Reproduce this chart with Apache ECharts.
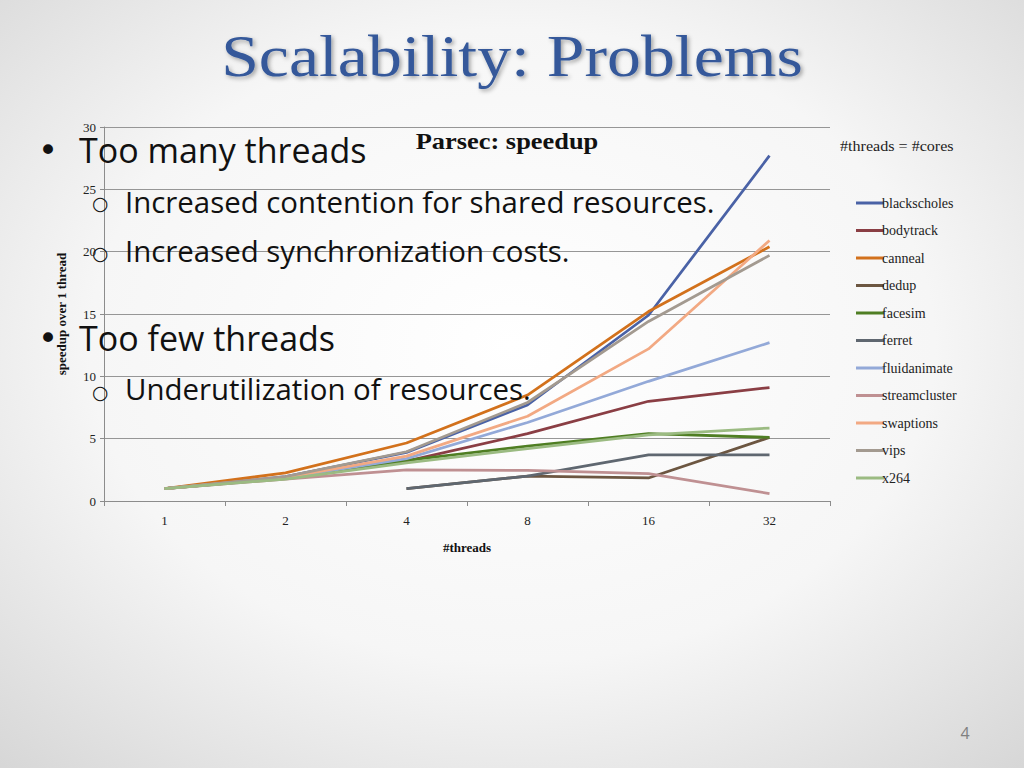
<!DOCTYPE html>
<html><head><meta charset="utf-8">
<script src="https://cdn.jsdelivr.net/npm/echarts@6/dist/echarts.min.js"></script>
<style>html,body{margin:0;padding:0;width:1024px;height:768px;overflow:hidden;background:#fff}#c{width:1024px;height:768px}</style>
</head><body><div id="c"></div>
<script>
const categories = ['1', '2', '4', '8', '16', '32'];
const seriesNames = ['blackscholes','bodytrack','canneal','dedup','facesim','ferret','fluidanimate','streamcluster','swaptions','vips','x264'];
const blackscholes  = [1, 1.95, 3.9, 7.7, 14.9, 27.7];
const bodytrack     = [1, 1.85, 3.2, 5.4, 8.0, 9.1];
const canneal       = [1, 2.25, 4.65, 8.5, 15.2, 20.4];
const dedup         = [null, null, 1.0, 2.0, 1.85, 5.1];
const facesim       = [1, 1.8, 3.25, 4.4, 5.4, 5.1];
const ferret        = [null, null, 1.0, 2.0, 3.7, 3.7];
const fluidanimate  = [1, 1.85, 3.4, 6.3, 9.6, 12.7];
const streamcluster = [1, 1.75, 2.5, 2.45, 2.2, 0.6];
const swaptions     = [1, 1.9, 3.6, 6.8, 12.2, 20.9];
const vips          = [1, 1.95, 3.95, 7.9, 14.4, 19.7];
const x264          = [1, 1.75, 3.05, 4.2, 5.3, 5.85];
const yTicks = [0, 5, 10, 15, 20, 25, 30];

const dataMap = {blackscholes, bodytrack, canneal, dedup, facesim, ferret, fluidanimate, streamcluster, swaptions, vips, x264};
const colors = ['#4a62a6','#8a3e44','#d2711c','#6c5641','#4f7e23','#5f6770','#93a9d8','#bf9092','#f2a983','#a39a90','#9bbb82'];

const serif = '"Liberation Serif", "DejaVu Serif", serif';
const sans = '"Open Sans", "Noto Sans", sans-serif';

const chart = echarts.init(document.getElementById('c'), null, {renderer: 'svg'});
chart.setOption({
  animation: false,
  color: colors,
  grid: {left: 104, right: 194, top: 127, bottom: 267, containLabel: false},
  xAxis: {
    type: 'category', data: categories, boundaryGap: true,
    name: '#threads', nameLocation: 'middle', nameGap: 40,
    nameTextStyle: {fontFamily: serif, fontWeight: 'bold', fontSize: 13, color: '#111'},
    axisLine: {lineStyle: {color: '#8c8c8c', width: 1}},
    axisTick: {show: true, length: 5, lineStyle: {color: '#8c8c8c'}},
    axisLabel: {fontFamily: serif, fontSize: 13, color: '#222', margin: 13}
  },
  yAxis: {
    type: 'value', min: yTicks[0], max: yTicks[yTicks.length-1], interval: 5,
    name: 'speedup over 1 thread', nameLocation: 'middle', nameGap: 36, nameRotate: 90,
    nameTextStyle: {fontFamily: serif, fontWeight: 'bold', fontSize: 13, color: '#111'},
    axisLine: {show: true, lineStyle: {color: '#8c8c8c', width: 1}},
    axisTick: {show: true, length: 4, lineStyle: {color: '#8c8c8c'}},
    axisLabel: {fontFamily: serif, fontSize: 13, color: '#222', margin: 8},
    splitLine: {lineStyle: {color: '#969696', width: 1}}
  },
  legend: {
    orient: 'vertical', left: 851, top: 191, icon: 'rect', itemWidth: 28, itemHeight: 3, itemGap: 13.5,
    textStyle: {fontFamily: serif, fontSize: 14, lineHeight: 14, color: '#222', padding: [0,0,0,-7]},
    data: seriesNames
  },
  series: seriesNames.map((n) => ({
    name: n, type: 'line', data: dataMap[n], symbol: 'none', showSymbol: false, connectNulls: false,
    lineStyle: {width: 2.75}
  })),
  graphic: [
    {type: 'rect', z: -100, silent: true, shape: {x: 0, y: 0, width: 1024, height: 768},
      style: {fill: {type: 'radial', x: 0.5, y: 0.45, r: 0.75, colorStops: [
        {offset: 0, color: '#ffffff'}, {offset: 0.55, color: '#f6f6f6'}, {offset: 1, color: '#d6d6d6'}]}}},
    {type: 'text', z: 100, x: 512, y: 56, scaleX: 1.13, style: {text: 'Scalability: Problems', font: '60px ' + serif, fill: '#34589a', align: 'center', verticalAlign: 'middle',
      textShadowColor: 'rgba(0,0,0,0.35)', textShadowBlur: 4, textShadowOffsetX: 2, textShadowOffsetY: 2}},
    {type: 'text', z: 100, x: 507, y: 141, scaleX: 1.1, style: {text: 'Parsec: speedup', font: 'bold 24px ' + serif, fill: '#111', align: 'center', verticalAlign: 'middle'}},
    {type: 'text', z: 100, x: 840, y: 146, scaleX: 1.15, style: {text: '#threads = #cores', font: '14px ' + serif, fill: '#222', verticalAlign: 'middle'}},
    {type: 'text', z: 100, x: 38, y: 150, style: {text: '•', font: '34px "DejaVu Sans", sans-serif', fill: '#111', verticalAlign: 'middle'}},
    {type: 'text', z: 100, x: 79, y: 150, style: {text: 'Too many threads', font: '34px ' + sans, fill: '#111', verticalAlign: 'middle'}},
    {type: 'text', z: 100, x: 92, y: 203, style: {text: '○', font: '19px "DejaVu Sans", sans-serif', fill: '#111', verticalAlign: 'middle'}},
    {type: 'text', z: 100, x: 125, y: 202, style: {text: 'Increased contention for shared resources.', font: '29.4px ' + sans, fill: '#111', verticalAlign: 'middle'}},
    {type: 'text', z: 100, x: 92, y: 253, style: {text: '○', font: '19px "DejaVu Sans", sans-serif', fill: '#111', verticalAlign: 'middle'}},
    {type: 'text', z: 100, x: 125, y: 251, style: {text: 'Increased synchronization costs.', font: '29.4px ' + sans, fill: '#111', verticalAlign: 'middle'}},
    {type: 'text', z: 100, x: 38, y: 338, style: {text: '•', font: '34px "DejaVu Sans", sans-serif', fill: '#111', verticalAlign: 'middle'}},
    {type: 'text', z: 100, x: 79, y: 338, style: {text: 'Too few threads', font: '34px ' + sans, fill: '#111', verticalAlign: 'middle'}},
    {type: 'text', z: 100, x: 92, y: 392, style: {text: '○', font: '19px "DejaVu Sans", sans-serif', fill: '#111', verticalAlign: 'middle'}},
    {type: 'text', z: 100, x: 125, y: 389, style: {text: 'Underutilization of resources.', font: '29.4px ' + sans, fill: '#111', verticalAlign: 'middle'}},
    {type: 'text', z: 100, x: 965, y: 733, style: {text: '4', font: '16px ' + sans, fill: '#808080', align: 'center', verticalAlign: 'middle'}}
  ]
});
</script></body></html>
